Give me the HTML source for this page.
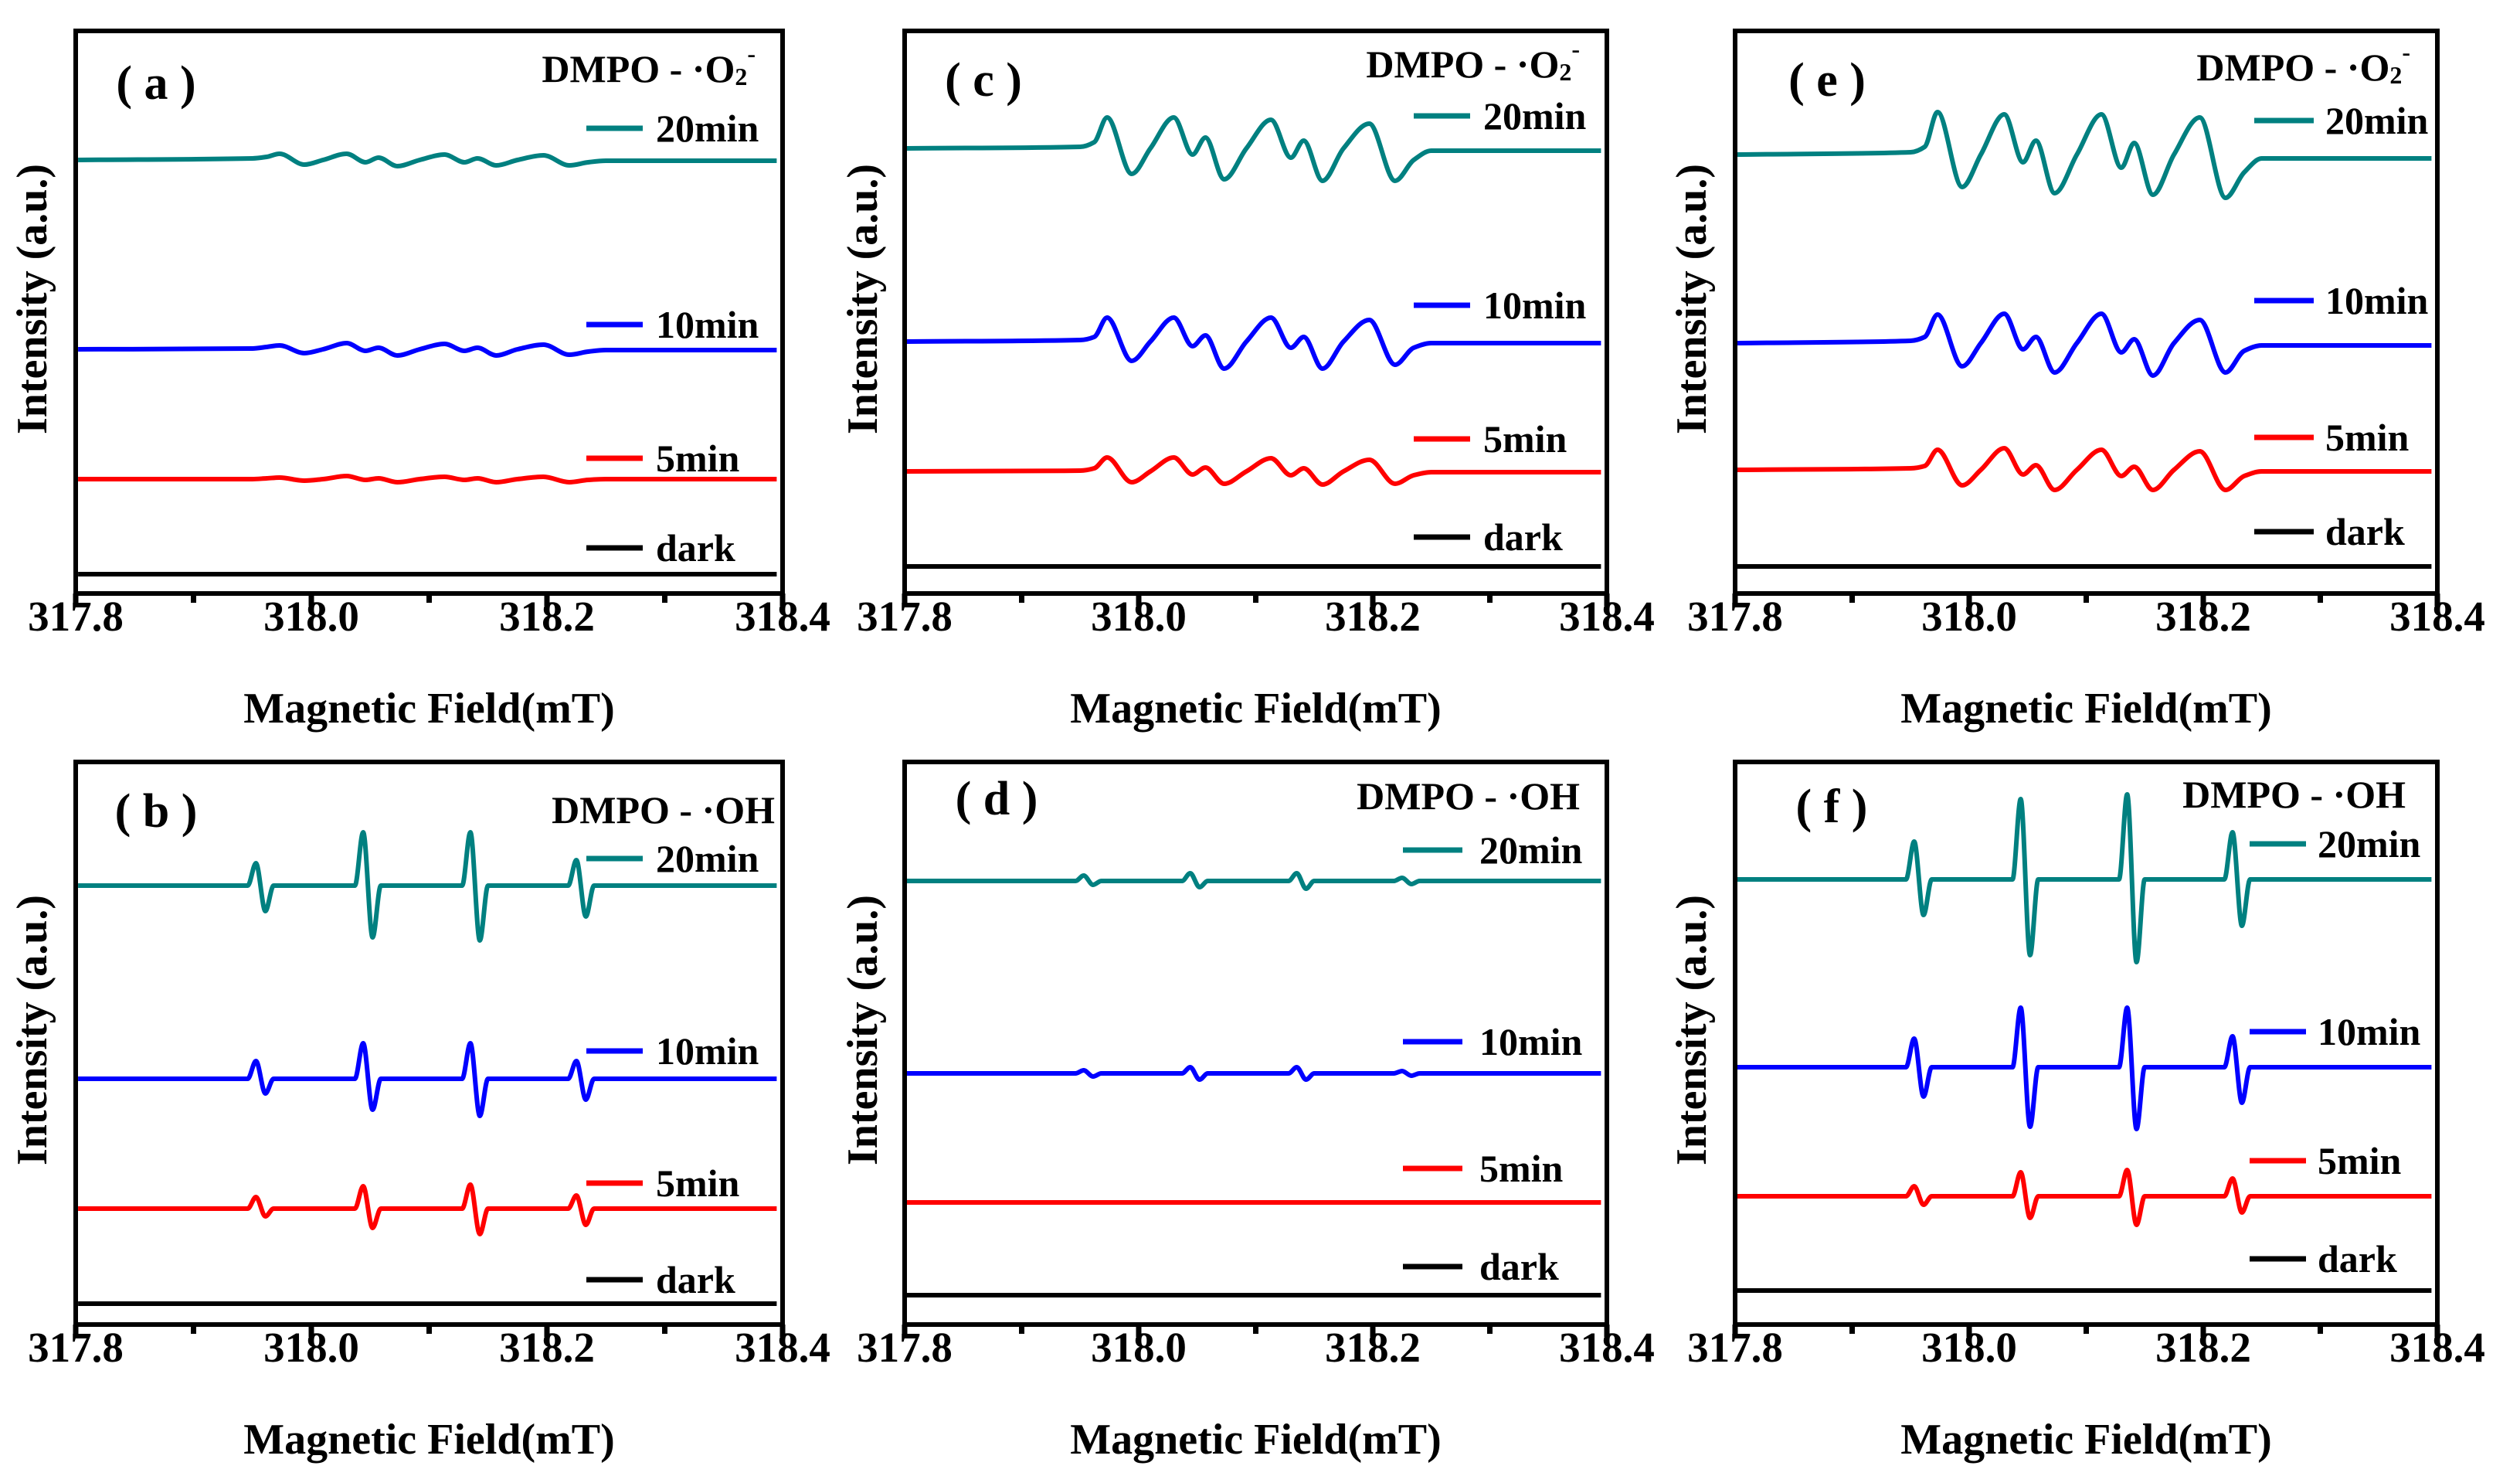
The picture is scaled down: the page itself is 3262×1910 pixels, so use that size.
<!DOCTYPE html>
<html><head><meta charset="utf-8"><style>
html,body{margin:0;padding:0;background:#fff}
svg{display:block}
text{font-family:"Liberation Serif",serif;font-weight:bold;fill:#000}
</style></head><body>
<svg id="chart" width="3262" height="1910" viewBox="0 0 3262 1910" xmlns="http://www.w3.org/2000/svg"></svg>
<script>
// ---- data ----
const xTicks = [317.8, 318.0, 318.2, 318.4];
const xTickLabels = ["317.8", "318.0", "318.2", "318.4"];
const xMinorTicks = [317.9, 318.1, 318.3];
const seriesNames = ["20min", "10min", "5min", "dark"];
const seriesColors = ["#008080", "#0000ff", "#ff0000", "#000000"];

const fieldO2 = [317.802,317.95,317.962,317.973,317.994,318.010,318.030,318.046,318.057,318.073,318.092,318.113,318.130,318.141,318.157,318.175,318.197,318.219,318.235,318.25,318.395];
const fieldOH = [317.802,317.946,317.953,317.961,317.968,318.037,318.044,318.052,318.059,318.128,318.135,318.143,318.150,318.218,318.225,318.233,318.240,318.395];

// baselines (a.u.) per panel: 20min,10min,5min,dark
const baseA = [561,316,148,25];
const baseC = [576,326,158,35];
const baseE = [568,324,160,35];
const baseB = [568,318,150,27];
const baseD = [574,325,158,38];
const baseF = [576,333,166,44];

// deviations (a.u.) from baseline
const a20 = [0,2,4,8,-6,0,8,-3,3,-8,0,7,-3,2,-7,0,6,-7,-3,-1,-1];
const a10 = [0,1,3,5,-5,0,8,-2,2,-8,0,7,-2,2,-8,0,6,-7,-3,-1,-1];
const a5  = [0,0,1,2,-2,0,4,-1,1,-4,0,3,-1,1,-4,0,3,-4,-1,0,0];
const a0  = [0,0,0,0,0,0,0,0,0,0,0,0,0,0,0,0,0,0,0,0,0];
const c20 = [0,2,8,40,-33,0,40,-8,14,-40,0,37,-12,10,-42,0,32,-42,-15,-3,-3];
const c10 = [0,2,6,31,-25,0,31,-6,8,-35,0,31,-8,6,-35,0,28,-30,-8,-2,-2];
const c5  = [0,1,4,18,-14,0,18,-4,5,-16,0,17,-5,4,-17,0,15,-16,-5,-1,-1];
const c0  = [0,0,0,0,0,0,0,0,0,0,0,0,0,0,0,0,0,0,0,0,0];
const e20 = [0,3,10,55,-42,0,52,-10,18,-50,0,52,-17,15,-52,0,48,-56,-23,-5,-5];
const e10 = [0,3,8,37,-30,0,38,-8,8,-38,0,38,-12,5,-42,0,30,-38,-10,-3,-3];
const e5  = [0,2,5,26,-20,0,28,-6,6,-26,0,26,-8,4,-26,0,24,-26,-8,-2,-2];
const e0  = [0,0,0,0,0,0,0,0,0,0,0,0,0,0,0,0,0,0,0,0,0];
const b20 = [0,0,29,-33,0,0,69,-67,0,0,69,-71,0,0,33,-40,0,0];
const b10 = [0,0,23,-19,0,0,46,-40,0,0,46,-48,0,0,23,-27,0,0];
const b5  = [0,0,15,-10,0,0,29,-25,0,0,31,-33,0,0,17,-21,0,0];
const b0  = [0,0,0,0,0,0,0,0,0,0,0,0,0,0,0,0,0,0];
const d20 = [0,0,7,-5,0,0,10,-8,0,0,10,-10,0,0,4,-4,0,0];
const d10 = [0,0,4,-4,0,0,8,-8,0,0,8,-8,0,0,3,-3,0,0];
const d5  = [0,0,0,0,0,0,0,0,0,0,0,0,0,0,0,0,0,0];
const d0  = [0,0,0,0,0,0,0,0,0,0,0,0,0,0,0,0,0,0];
const f20 = [0,0,49,-46,0,0,104,-98,0,0,110,-107,0,0,61,-60,0,0];
const f10 = [0,0,37,-38,0,0,77,-77,0,0,77,-80,0,0,40,-46,0,0];
const f5  = [0,0,13,-11,0,0,31,-28,0,0,34,-37,0,0,23,-21,0,0];
const f0  = [0,0,0,0,0,0,0,0,0,0,0,0,0,0,0,0,0,0];

// ---- layout ----
const NS = "http://www.w3.org/2000/svg";
const svg = document.getElementById("chart");
const Y_MAX = 728;
const panels = [
  {id:"a", x:98,   y:40,  w:915, h:728, field:fieldO2, base:baseA, dev:[a20,a10,a5,a0], kind:"O2", label:[202,108], title:[978,89], leg:{x1:759,x2:832,tx:849,ys:[166,420,593,709]}, ytx:42},
  {id:"c", x:1171, y:40,  w:909, h:728, field:fieldO2, base:baseC, dev:[c20,c10,c5,c0], kind:"O2", label:[1273,104], title:[2045,83], leg:{x1:1830,x2:1903,tx:1920,ys:[150,395,568,695]}, ytx:1117},
  {id:"e", x:2246, y:40,  w:909, h:728, field:fieldO2, base:baseE, dev:[e20,e10,e5,e0], kind:"O2", label:[2365,104], title:[3120,87], leg:{x1:2918,x2:2995,tx:3010,ys:[156,389,566,688]}, ytx:2190},
  {id:"b", x:98,   y:986, w:915, h:728, field:fieldOH, base:baseB, dev:[b20,b10,b5,b0], kind:"OH", label:[202,1050], title:[1003,1048], leg:{x1:759,x2:832,tx:849,ys:[1111,1360,1531,1656]}, ytx:42},
  {id:"d", x:1171, y:986, w:909, h:728, field:fieldOH, base:baseD, dev:[d20,d10,d5,d0], kind:"OH", label:[1290,1034], title:[2045,1030], leg:{x1:1816,x2:1893,tx:1915,ys:[1100,1348,1512,1639]}, ytx:1117},
  {id:"f", x:2246, y:986, w:909, h:728, field:fieldOH, base:baseF, dev:[f20,f10,f5,f0], kind:"OH", label:[2371,1044], title:[3114,1028], leg:{x1:2912,x2:2985,tx:3000,ys:[1092,1335,1502,1629]}, ytx:2190}
];

function el(tag, attrs, parent){
  const e = document.createElementNS(NS, tag);
  for (const k in attrs) e.setAttribute(k, attrs[k]);
  (parent||svg).appendChild(e);
  return e;
}
// monotone cubic (Fritsch-Carlson) as bezier path
function monotonePath(pts){
  const n = pts.length;
  const dx = [], sl = [];
  for (let i=0;i<n-1;i++){ dx[i]=pts[i+1][0]-pts[i][0]; sl[i]=(pts[i+1][1]-pts[i][1])/dx[i]; }
  const m = [sl[0]];
  for (let i=1;i<n-1;i++){
    if (sl[i-1]*sl[i] <= 0) m[i]=0;
    else { const w1=2*dx[i]+dx[i-1], w2=dx[i]+2*dx[i-1]; m[i]=(w1+w2)/(w1/sl[i-1]+w2/sl[i]); }
  }
  m[n-1]=sl[n-2];
  let d = "M"+pts[0][0].toFixed(1)+","+pts[0][1].toFixed(1);
  for (let i=0;i<n-1;i++){
    const h = dx[i]/3;
    d += " C"+(pts[i][0]+h).toFixed(1)+","+(pts[i][1]+m[i]*h).toFixed(1)+" "+(pts[i+1][0]-h).toFixed(1)+","+(pts[i+1][1]-m[i+1]*h).toFixed(1)+" "+pts[i+1][0].toFixed(1)+","+pts[i+1][1].toFixed(1);
  }
  return d;
}

panels.forEach(p => {
  const g = el("g", {});
  
  
  const xs = v => p.x + (v - 317.8) / 0.6 * p.w;
  const ys = v => p.y + p.h - v / Y_MAX * p.h;

  p.dev.forEach((dv, si) => {
    const pts = p.field.map((f, i) => [xs(f), ys(p.base[si] + dv[i])]);
    const path = el("path", {d: monotonePath(pts), fill:"none", stroke:seriesColors[si], "stroke-width":6, "stroke-linejoin":"round"}, g);
    
    
  });

  const frame = el("rect", {x:p.x, y:p.y, width:p.w, height:p.h, fill:"none", stroke:"#000", "stroke-width":6}, g);
  
  

  xTicks.forEach((t, i) => {
    const tk = el("line", {x1:xs(t), x2:xs(t), y1:p.y+p.h, y2:p.y+p.h+16, stroke:"#000", "stroke-width":7}, g);
    
    
    const tl = el("text", {x:xs(t), y:p.y+p.h+48, "font-size":55, "text-anchor":"middle"}, g);
    tl.textContent = xTickLabels[i];
    
    
  });
  xMinorTicks.forEach(t => {
    const tk = el("line", {x1:xs(t), x2:xs(t), y1:p.y+p.h, y2:p.y+p.h+12, stroke:"#000", "stroke-width":7}, g);
    
    
  });

  const xt = el("text", {x:p.x+p.w/2, y:p.y+p.h+149, "font-size":56, "text-anchor":"middle", "dominant-baseline":"central"}, g);
  xt.textContent = "Magnetic Field(mT)";
  
  
  const cy = p.y + 347;
  const yt = el("text", {x:p.ytx, y:cy, "font-size":56, "text-anchor":"middle", "dominant-baseline":"central", transform:"rotate(-90 "+p.ytx+" "+cy+")"}, g);
  yt.textContent = "Intensity (a.u.)";
  
  

  const lb = el("text", {x:p.label[0], y:p.label[1], "font-size":62, "text-anchor":"middle", "dominant-baseline":"central"}, g);
  lb.textContent = "( " + p.id + " )";
  
  

  const tt = el("text", {x:p.title[0], y:p.title[1], "font-size":50, "text-anchor":"end", "dominant-baseline":"central"}, g);
  
  
  if (p.kind === "O2") {
    tt.appendChild(document.createTextNode("DMPO - ·O"));
    const s1 = el("tspan", {"font-size":32, dy:10}, tt); s1.textContent = "2";
    const s2 = el("tspan", {"font-size":32, dy:-30}, tt); s2.textContent = "-";
  } else {
    tt.textContent = "DMPO - ·OH";
  }

  seriesNames.forEach((n, si) => {
    const yy = p.leg.ys[si];
    const ll = el("line", {x1:p.leg.x1, x2:p.leg.x2, y1:yy, y2:yy, stroke:seriesColors[si], "stroke-width":7}, g);
    
    
    const lt = el("text", {x:p.leg.tx, y:yy, "font-size":50, "dominant-baseline":"central"}, g);
    lt.textContent = n;
    
    
  });
});
</script>
</body></html>
